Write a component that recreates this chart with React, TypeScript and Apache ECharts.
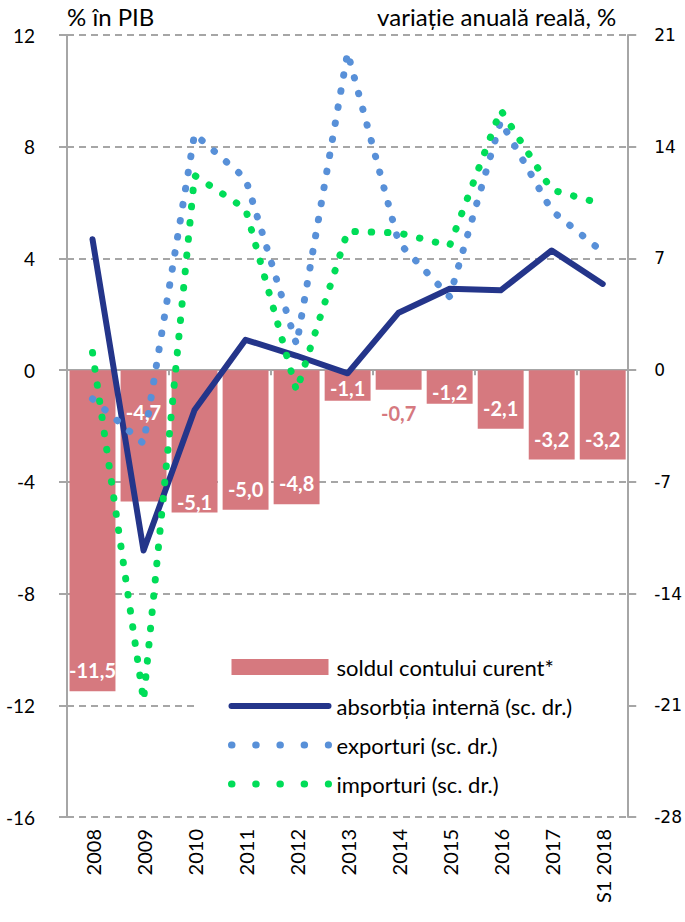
import React, { useEffect, useRef } from "react";
import * as echarts from "echarts";

const years = ["2008", "2009", "2010", "2011", "2012", "2013", "2014", "2015", "2016", "2017", "S1 2018"];
const contCurent = [-11.5, -4.7, -5.1, -5.0, -4.8, -1.1, -0.7, -1.2, -2.1, -3.2, -3.2];
const absorbtie = [8.2, -11.3, -2.5, 1.9, 0.9, -0.2, 3.6, 5.1, 5.0, 7.5, 5.4];
const exporturi = [-1.8, -4.6, 14.8, 12.0, 1.6, 19.9, 8.0, 4.6, 15.6, 10.0, 7.4];
const importuri = [1.1, -20.7, 12.2, 10.1, -1.3, 8.7, 8.6, 7.8, 16.3, 11.3, 10.4];

const seriesNames = [
  "soldul contului curent*",
  "absorbția internă (sc. dr.)",
  "exporturi (sc. dr.)",
  "importuri (sc. dr.)",
];
const leftAxisName = "% în PIB";
const rightAxisName = "variație anuală reală, %";

const PINK = "#d6797f";
const NAVY = "#24358a";
const BLUE = "#5890d8";
const GREEN = "#00dd58";
const GREY = "#a6a6a6";
const FONT = "Lato";

export default function App() {
  const ref = useRef<HTMLDivElement>(null);
  useEffect(() => {
    if (!ref.current) return;
    const chart = echarts.init(ref.current, undefined, { renderer: "svg" });
    const labelOverrides: Record<number, any> = {
      1: { position: "insideTop", distance: 32 },
      2: { distance: 1 },
      5: { distance: 3 },
      6: { position: "bottom", distance: 13, color: PINK },
      7: { distance: 2 },
    };
    const fmt = (v: number) => v.toFixed(1).replace(".", ",");
    const hiddenSymbol = { opacity: 0 };
    chart.setOption({
      animation: false,
      backgroundColor: "#fff",
      grid: { left: 67, right: 53, top: 35, bottom: 105 },
      legend: {
        orient: "vertical",
        left: 195,
        top: 610,
        padding: [46, 58, 12, 33],
        backgroundColor: "#fff",
        itemWidth: 97,
        itemHeight: 16,
        itemGap: 17,
        textStyle: { fontFamily: FONT, fontSize: 22, color: "#000", lineHeight: 22, padding: [0, 0, 0, 3] },
        data: [
          { name: seriesNames[0], icon: "rect" },
          { name: seriesNames[1], itemStyle: hiddenSymbol, lineStyle: { width: 6, cap: "round", color: NAVY } },
          { name: seriesNames[2], itemStyle: hiddenSymbol, lineStyle: { type: [0.5, 23.7], width: 7, cap: "round", color: BLUE } },
          { name: seriesNames[3], itemStyle: hiddenSymbol, lineStyle: { type: [0.5, 23.7], width: 7, cap: "round", color: GREEN } },
        ],
      },
      xAxis: [
        {
          type: "category",
          data: years,
          position: "bottom",
          axisLine: { show: false, onZero: false },
          axisTick: { show: false },
          splitLine: { show: false },
          axisLabel: { rotate: 90, margin: 12, fontFamily: FONT, fontSize: 20, color: "#000" },
        },
        {
          type: "category",
          data: years,
          position: "bottom",
          axisLine: { show: true, onZero: true, onZeroAxisIndex: 0, lineStyle: { color: GREY, width: 2 } },
          axisTick: { show: true, length: 5, lineStyle: { color: GREY, width: 2 } },
          axisLabel: { show: false },
          splitLine: { show: false },
        },
      ],
      yAxis: [
        {
          type: "value",
          min: -16,
          max: 12,
          interval: 4,
          position: "left",
          name: leftAxisName,
          nameLocation: "end",
          nameGap: 19,
          nameTextStyle: { align: "left", verticalAlign: "middle", fontFamily: FONT, fontSize: 24, color: "#000" },
          axisLine: { show: true, lineStyle: { color: GREY, width: 2 } },
          axisTick: { show: true, length: 8, lineStyle: { color: GREY, width: 2 } },
          splitLine: { show: true, lineStyle: { color: GREY, width: 2, type: [7, 5] } },
          axisLabel: { margin: 32, fontFamily: FONT, fontSize: 19, color: "#000" },
        },
        {
          type: "value",
          z: 6,
          min: -28,
          max: 21,
          interval: 7,
          position: "right",
          name: rightAxisName,
          nameLocation: "end",
          nameGap: 19,
          nameTextStyle: { align: "right", verticalAlign: "middle", fontFamily: FONT, fontSize: 24, color: "#000", padding: [0, 12, 0, 0] },
          axisLine: { show: true, lineStyle: { color: GREY, width: 2 } },
          axisTick: { show: true, length: 8, lineStyle: { color: GREY, width: 2 } },
          splitLine: { show: false },
          axisLabel: { margin: 26, fontFamily: "DejaVu Sans", fontSize: 17, color: "#000" },
        },
      ],
      series: [
        {
          name: seriesNames[0],
          type: "bar",
          xAxisIndex: 0,
          yAxisIndex: 0,
          barCategoryGap: "10%",
          itemStyle: { color: PINK },
          label: {
            show: true,
            position: "insideBottom",
            distance: 11,
            color: "#fff",
            fontFamily: FONT,
            fontWeight: "bold",
            fontSize: 20,
            formatter: (p: any) => fmt(p.value),
          },
          data: contCurent.map((v, i) => ({ value: v, label: labelOverrides[i] })),
        },
        {
          name: seriesNames[1],
          type: "line",
          xAxisIndex: 0,
          yAxisIndex: 1,
          symbol: "none",
          lineStyle: { color: NAVY, width: 6, cap: "round", join: "round" },
          itemStyle: { color: NAVY },
          data: absorbtie,
        },
        {
          name: seriesNames[2],
          type: "line",
          xAxisIndex: 0,
          yAxisIndex: 1,
          symbol: "none",
          lineStyle: { color: BLUE, width: 7, type: [0.5, 15.8], cap: "round" },
          itemStyle: { color: BLUE },
          data: exporturi,
        },
        {
          name: seriesNames[3],
          type: "line",
          xAxisIndex: 0,
          yAxisIndex: 1,
          symbol: "none",
          lineStyle: { color: GREEN, width: 7, type: [0.5, 15.8], cap: "round" },
          itemStyle: { color: GREEN },
          data: importuri,
        },
      ],
    });
    return () => chart.dispose();
  }, []);
  return <div ref={ref} style={{ position: "fixed", left: 0, top: 0, width: 685, height: 922 }} />;
}
